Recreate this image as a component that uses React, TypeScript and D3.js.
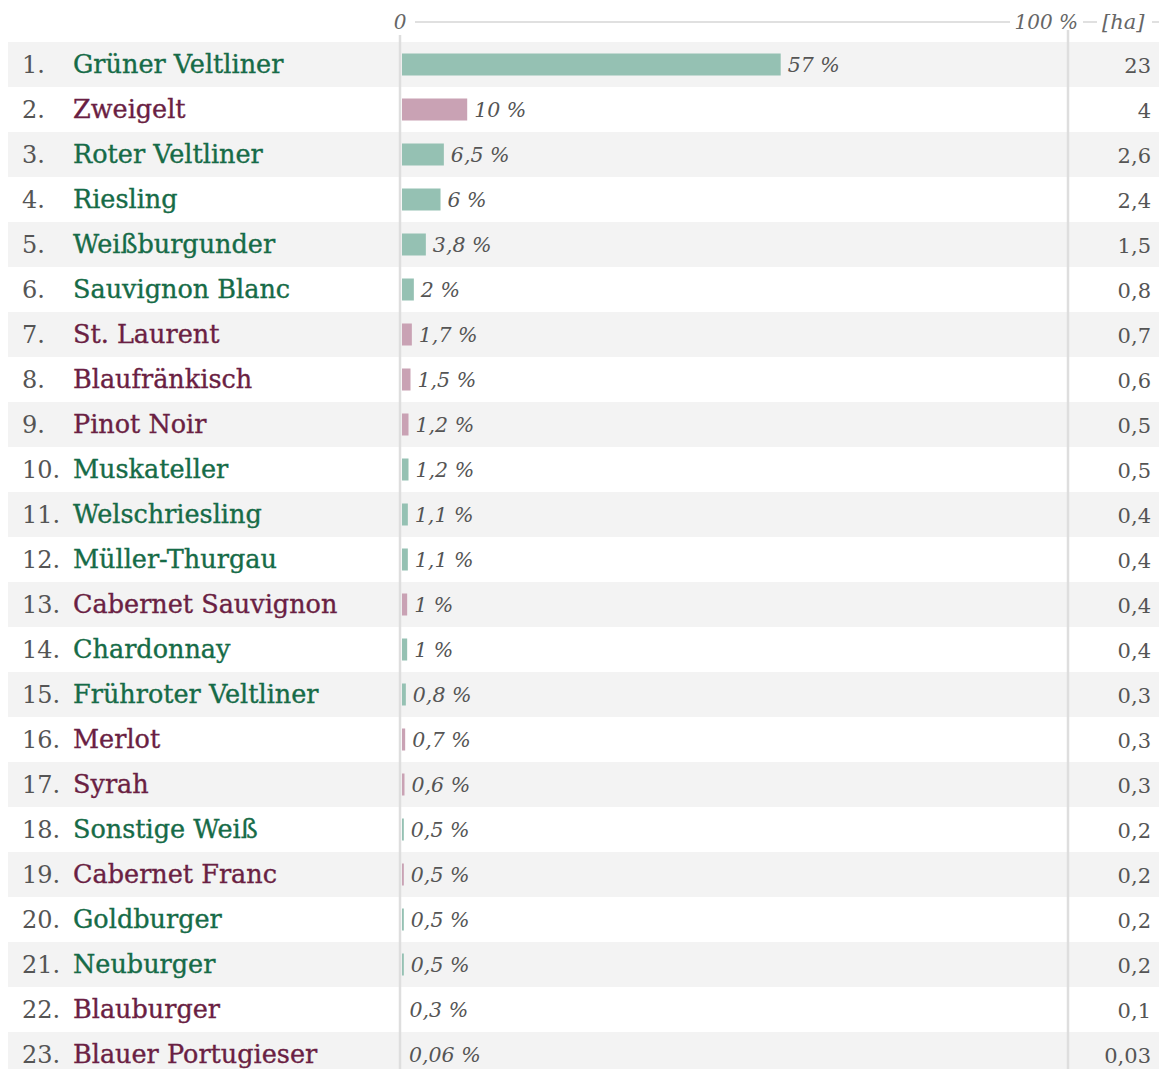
import React from "react";
import * as d3 from "d3";

const names = ["Grüner Veltliner","Zweigelt","Roter Veltliner","Riesling","Weißburgunder","Sauvignon Blanc","St. Laurent","Blaufränkisch","Pinot Noir","Muskateller","Welschriesling","Müller-Thurgau","Cabernet Sauvignon","Chardonnay","Frühroter Veltliner","Merlot","Syrah","Sonstige Weiß","Cabernet Franc","Goldburger","Neuburger","Blauburger","Blauer Portugieser"];
const shares = [57,10,6.5,6,3.8,2,1.7,1.5,1.2,1.2,1.1,1.1,1,1,0.8,0.7,0.6,0.5,0.5,0.5,0.5,0.3,0.06];
const hectares = [23,4,2.6,2.4,1.5,0.8,0.7,0.6,0.5,0.5,0.4,0.4,0.4,0.4,0.3,0.3,0.3,0.2,0.2,0.2,0.2,0.1,0.03];
const kinds = ["w","r","w","w","w","w","r","r","r","w","w","w","r","w","w","r","r","w","r","w","w","r","r"];
const axisTicks = [0, 100];

const W = 1159, H = 1069;
const FONT = "'DejaVu Serif', serif";

export default function App() {
  const x = d3.scaleLinear().domain([0, 100]).range([402, 1069]);
  const y = d3.scaleBand<number>().domain(d3.range(names.length)).range([42, 42 + 45 * names.length]).padding(0);
  const fmt = (v: number) => String(v).replace(".", ",");
  const barH = 22;
  return (
    <svg width={W} height={H} style={{ position: "absolute", left: 0, top: 0, display: "block" }} fontFamily={FONT}>
      <rect x={0} y={0} width={W} height={H} fill="#fff" />
      {names.map((n, i) => (
        <rect key={"bg" + i} x={8} y={y(i)!} width={W - 8} height={y.bandwidth()} fill={i % 2 === 0 ? "#f3f3f3" : "#fff"} />
      ))}
      {/* top axis */}
      <line x1={415} x2={1010} y1={22} y2={22} stroke="#e0e0e0" strokeWidth={2} />
      <text x={400} y={29} textAnchor="middle" fontStyle="italic" fontSize={20} fill="#666">{axisTicks[0]}</text>
      <text x={1078} y={29} textAnchor="end" fontStyle="italic" fontSize={20} fill="#666">{axisTicks[1]} %</text>
      <line x1={1083} x2={1097} y1={22} y2={22} stroke="#e0e0e0" strokeWidth={2} />
      <text x={1102} y={29} fontStyle="italic" fontSize={21} fill="#666">[ha]</text>
      <line x1={1152} x2={1159} y1={22} y2={22} stroke="#e0e0e0" strokeWidth={2} />
      {/* vertical rules */}
      <line x1={400} x2={400} y1={35} y2={H} stroke="#dedede" strokeWidth={2.5} />
      <line x1={1068} x2={1068} y1={30} y2={H} stroke="#dedede" strokeWidth={2.5} />
      {names.map((n, i) => {
        const cy = y(i)! + y.bandwidth() / 2;
        const isW = kinds[i] === "w";
        const bw = Math.max(0, x(shares[i]) - x(0) - 1.5);
        const col = isW ? "#166b47" : "#6a1f43";
        return (
          <g key={"r" + i}>
            <text x={22} y={cy + 8} fontSize={24} fill="#555">{i + 1}.</text>
            <text x={73} y={cy + 8} fontSize={25.5} fill={col} stroke={col} strokeWidth={0.35}>{n}</text>
            {bw > 0.6 && (
              <rect x={x(0)} y={cy - barH / 2} width={bw} height={barH} fill={isW ? "#95c1b3" : "#c9a2b4"} />
            )}
            <text x={x(0) + bw + 7} y={cy + 7} fontSize={20.5} fontStyle="italic" fill="#555">{fmt(shares[i])} %</text>
            <text x={1151} y={cy + 8} fontSize={21} textAnchor="end" fill="#555">{fmt(hectares[i])}</text>
          </g>
        );
      })}
    </svg>
  );
}
